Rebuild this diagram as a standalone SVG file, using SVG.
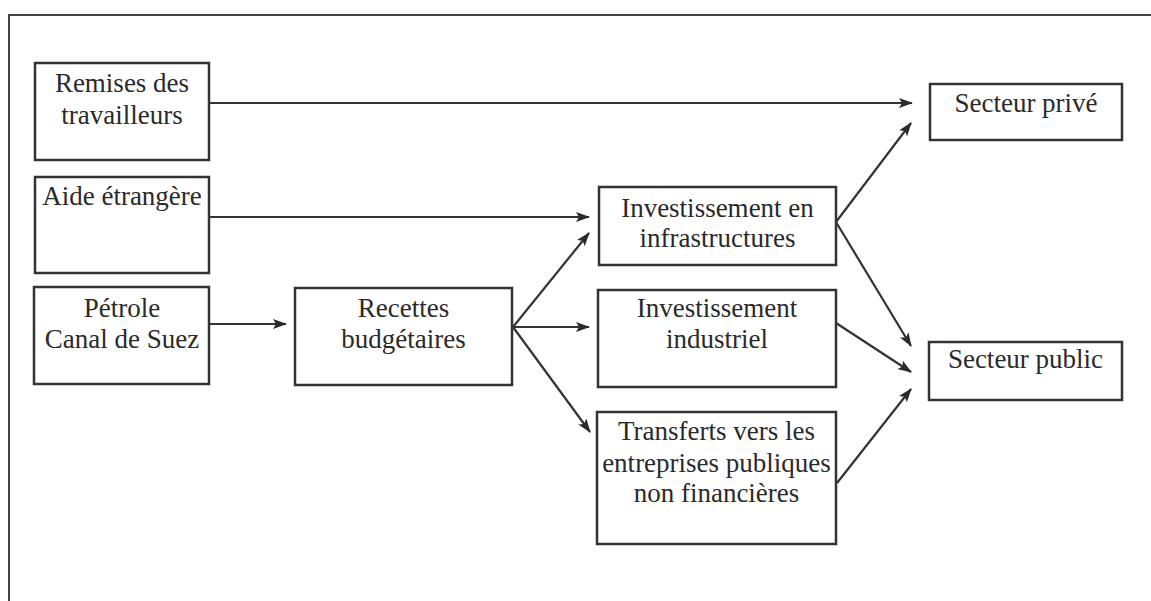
<svg xmlns="http://www.w3.org/2000/svg" width="1151" height="601" viewBox="0 0 1151 601">
<defs>
<marker id="ah" viewBox="0 0 14 10" refX="13" refY="5" markerWidth="14" markerHeight="10" markerUnits="userSpaceOnUse" orient="auto">
<path d="M0,0 L14,5 L0,10 L3,5 Z" fill="#2a2a2a"/>
</marker>
<style>
.box{fill:#fff;stroke:#333;stroke-width:2.5}
.t{font-family:'Liberation Serif','Times New Roman',serif;font-size:27px;fill:#2a2a2a;text-anchor:middle}
.c{stroke:#333;stroke-width:2.2;fill:none;marker-end:url(#ah)}
</style>
</defs>
<rect width="1151" height="601" fill="#fff"/>
<path d="M9,601 L9,15 L1151,15" fill="none" stroke="#444" stroke-width="2"/>
<g font-family="Liberation Serif, Times New Roman, serif">
<g id="n-remises"><rect class="box" x="35" y="63" width="174" height="97"/><text class="t" x="122" y="92">Remises des</text><text class="t" x="122" y="124">travailleurs</text></g>
<g id="n-aide"><rect class="box" x="35" y="177" width="174" height="96"/><text class="t" x="122" y="205">Aide étrangère</text></g>
<g id="n-petrole"><rect class="box" x="34" y="287" width="175" height="97"/><text class="t" x="122" y="317">Pétrole</text><text class="t" x="122" y="348">Canal de Suez</text></g>
<g id="n-recettes"><rect class="box" x="295" y="288" width="217" height="97"/><text class="t" x="403.5" y="317">Recettes</text><text class="t" x="403.5" y="348">budgétaires</text></g>
<g id="n-infra"><rect class="box" x="599" y="187" width="237" height="78"/><text class="t" x="717.5" y="217">Investissement en</text><text class="t" x="717.5" y="247">infrastructures</text></g>
<g id="n-indus"><rect class="box" x="598" y="290" width="238" height="97"/><text class="t" x="717" y="317">Investissement</text><text class="t" x="717" y="348">industriel</text></g>
<g id="n-transferts"><rect class="box" x="597" y="412" width="239" height="132"/><text class="t" x="716.5" y="440">Transferts vers les</text><text class="t" x="716.5" y="472">entreprises publiques</text><text class="t" x="716.5" y="502">non financières</text></g>
<g id="n-prive"><rect class="box" x="930" y="84" width="192" height="56"/><text class="t" x="1026" y="112">Secteur privé</text></g>
<g id="n-public"><rect class="box" x="929" y="342" width="193" height="58"/><text class="t" x="1025.5" y="368">Secteur public</text></g>
</g>
<g id="connectors">
<line class="c" x1="209" y1="103" x2="912" y2="103"/>
<line class="c" x1="209" y1="217" x2="589" y2="217"/>
<line class="c" x1="209" y1="324" x2="286" y2="324"/>
<line class="c" x1="513" y1="327" x2="589" y2="233"/>
<line class="c" x1="513" y1="327" x2="589" y2="327"/>
<line class="c" x1="513" y1="327" x2="590" y2="432"/>
<line class="c" x1="836" y1="222" x2="911" y2="123"/>
<line class="c" x1="836" y1="222" x2="911" y2="346"/>
<line class="c" x1="836" y1="323" x2="911" y2="372"/>
<line class="c" x1="837" y1="483" x2="911" y2="389"/>
</g>
</svg>
